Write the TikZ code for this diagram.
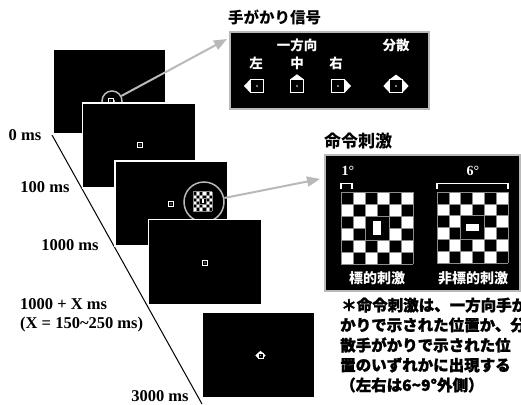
\documentclass[tikz,border=0pt]{standalone}
\usepackage{fontspec}
\setmainfont{Liberation Serif}
\newfontfamily\jp{Noto Sans CJK JP}
\newfontfamily\jpheavy{Noto Sans CJK JP}[BoldFeatures={FakeBold=1.3}]
\usetikzlibrary{arrows.meta,calc}
\definecolor{ring}{RGB}{185,185,185}
\definecolor{gridg}{RGB}{140,140,140}
\tikzset{
  screen/.style={fill=black,draw=white,line width=1.2pt,minimum width=113pt,minimum height=85pt,inner sep=0pt},
  fix/.style={draw=white,fill=black,line width=0.6pt,minimum size=4.5pt,inner sep=0pt},
  tlabel/.style={font=\fontsize{16.5}{18}\selectfont\bfseries,inner sep=0pt},
  jptitle/.style={font=\jp\bfseries\fontsize{15.5}{18}\selectfont,inner sep=0pt,anchor=west},
  jpwhite/.style={font=\jp\bfseries\fontsize{13.5}{16}\selectfont,text=white,inner sep=0pt},
  jpnote/.style={font=\jpheavy\bfseries\fontsize{15.5}{18}\selectfont,inner sep=0pt,anchor=west},
  degl/.style={font=\fontsize{14}{16}\selectfont\bfseries,text=white,inner sep=0pt},
  ringc/.style={circle,draw=ring,line width=1.5pt,inner sep=0pt},
  garrow/.style={draw=ring,line width=2pt,-{Triangle[length=13pt,width=10pt]}},
  panel/.style={draw=ring,fill=black,line width=1.8pt,inner sep=0pt,anchor=north west},
}
\newcommand\tL{\fill[white] (-1,-1) -- (-1.95,0) -- (-1,1) -- cycle;}
\newcommand\tR{\fill[white] (1,-1) -- (1.95,0) -- (1,1) -- cycle;}
\newcommand\tT{\fill[white] (-1,-1) -- (0,-1.75) -- (1,-1) -- cycle;}
\newcommand\cueicon[5]{%
  \begin{scope}[shift={(#1,#2)},scale=#3]
    #4
    \draw[white,fill=black,line width=#5] (-1,-1) rectangle (1,1);
    \fill[white] (0,0) circle (0.14);
  \end{scope}}
\newcommand\board[6]{%
  \begin{scope}[shift={(#1,#2)},scale=#3]
    \foreach \i in {0,...,5}{\foreach \j in {0,...,5}{%
      \pgfmathtruncatemacro\pp{mod(\i+\j,2)}%
      \ifnum\pp=0 \fill[black] (\i,\j) rectangle ++(1,1);\else \fill[white] (\i,\j) rectangle ++(1,1);\fi
    }}
    \foreach \k in {0,...,6}{\draw[gridg,line width=#6] (\k,0) -- (\k,6); \draw[gridg,line width=#6] (0,\k) -- (6,\k);}
    \draw[gridg,line width=#6,fill=black] (2,2) rectangle (4,4);
    \fill[white] ({3-#4},{3-#5}) rectangle ({3+#4},{3+#5});
  \end{scope}}
\begin{document}
\begin{tikzpicture}[x=1pt,y=-1pt]
\useasboundingbox (0,0) rectangle (521,404);
\fill[white] (0,0) rectangle (521,404);

% timeline
\coordinate (l0) at (52,135);
\coordinate (l1) at (202,404);
\draw[line width=1pt] (l0) -- (l1);

% screen 1
\node[screen] (s1) at (109.5,91.5) {};
\node[ringc,minimum size=20pt] (c1) at (112,101) {};
\cueicon{110.5}{101}{2.3}{\tR}{0.5pt}
% screen 2
\node[screen] (s2) at (139,145.5) {};
\node[fix] (f2) at (140,145) {};
\fill[white] (f2) circle (0.6);
% screen 3
\node[screen] (s3) at (171.5,203.5) {};
\node[fix] (f3) at (171,204) {};
\fill[white] (f3) circle (0.6);
\board{193}{191.5}{3.2}{0.3}{0.55}{0.25pt}
\node[ringc,minimum size=40pt] (c3) at (204,202) {};
% screen 4
\node[screen] (s4) at (205,262) {};
\node[fix] (f4) at (205,263) {};
\fill[white] (f4) circle (0.6);
% screen 5
\node[screen] (s5) at (258.5,355) {};
\cueicon{260.5}{355.5}{2.6}{\tL\tR\tT}{0.5pt}

% time labels
\node[tlabel] (t0) at (25,135) {0 ms};
\node[tlabel] (t1) at (45,187) {100 ms};
\node[tlabel] (t2) at (70,245) {1000 ms};
\node[tlabel,anchor=west] (t3) at (20,304) {1000 + X ms};
\node[tlabel,anchor=west] (t4) at (20,325) {(X = 150\textasciitilde250 ms)};
\node[tlabel] (t5) at (160,396) {3000 ms};

% cue panel
\node[jptitle] (cuetitle) at (228,17) {手がかり信号};
\node[panel,minimum width=199pt,minimum height=77pt] (cue) at (229,31) {};
\node[jpwhite] (uni) at (297,45) {一方向};
\node[jpwhite] (dif) at (396,45) {分散};
\node[jpwhite] (lft) at (256,63) {左};
\node[jpwhite] (mid) at (297,63) {中};
\node[jpwhite] (rgt) at (336,63) {右};
\cueicon{257}{86}{6.7}{\tL}{1pt}
\cueicon{297}{86}{6.7}{\tT}{1pt}
\cueicon{338}{86}{6.7}{\tR}{1pt}
\cueicon{396}{86}{6.5}{\tL\tR\tT}{1pt}

% command panel
\node[jptitle,font=\jp\bfseries\fontsize{17}{19}\selectfont] (cmdtitle) at (324,141.5) {命令刺激};
\node[panel,minimum width=195pt,minimum height=136pt] (cmd) at (324,154) {};
\node[degl] (d1) at (348,171) {1°};
\node[degl] (d6) at (473,171) {6°};
\draw[white,line width=1.5pt] (341,189) -- (341,183.5) -- (352,183.5) -- (352,189);
\draw[white,line width=1.5pt] (437,189) -- (437,183.5) -- (508,183.5) -- (508,189);
\board{341}{192}{12}{0.33}{0.58}{0.8pt}
\board{437}{192}{11.9}{0.55}{0.3}{0.8pt}
\node[jpwhite,font=\jp\bfseries\fontsize{14}{16}\selectfont] (tgt) at (377,278) {標的刺激};
\node[jpwhite,font=\jp\bfseries\fontsize{14}{16}\selectfont] (ntgt) at (473,278) {非標的刺激};

% note
\node[jpnote] (n1) at (341,305) {＊命令刺激は、一方向手が};
\node[jpnote] (n2) at (340,325) {かりで示された位置か、分};
\node[jpnote] (n3) at (340,345) {散手がかりで示された位};
\node[jpnote] (n4) at (340,365) {置のいずれかに出現する};
\node[jpnote] (n5) at (340,385) {（左右は6\textasciitilde9°外側）};

% arrows
\coordinate (a1) at (227,39);
\coordinate (a3) at (320,179);
\draw[garrow] (c1) -- (a1);
\draw[garrow] (c3) -- (a3);
\end{tikzpicture}
\end{document}
